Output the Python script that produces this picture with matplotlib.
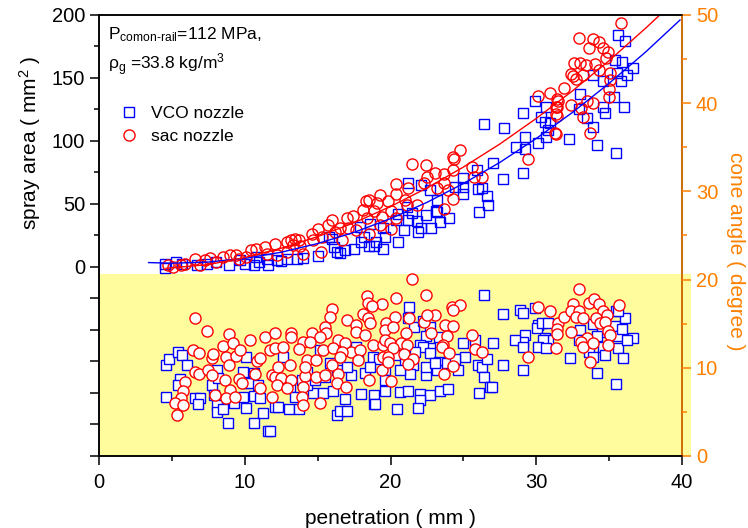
import numpy as np
import matplotlib
matplotlib.use('Agg')
import matplotlib.pyplot as plt
from matplotlib.patches import Rectangle

plt.rcParams['font.family'] = ['Liberation Sans', 'DejaVu Sans']
plt.rcParams['mathtext.fontset'] = 'custom'
plt.rcParams['mathtext.rm'] = 'Liberation Sans'
plt.rcParams['mathtext.it'] = 'Liberation Sans'

# spray area (upper half, left axis)
vco_x = [4.5, 4.5, 5.3, 5.7, 6.7, 7.4, 8.0, 8.9, 10.0, 10.6, 11.0, 11.6, 12.2, 12.9, 13.6, 9.7, 10.8,
         11.5, 12.5, 14.0, 15.0, 17.5, 18.5, 19.5, 16.0, 16.3, 18.2, 19.0,
         21.2, 22.1, 22.7, 23.1, 22.4, 21.8, 22.1, 22.8, 23.4, 21.1, 20.5, 21.45, 20.9, 20.5, 19.6, 18.9,
         18.0, 16.9, 16.5, 16.1, 20.4, 19.5, 18.6, 17.9, 15.8, 21.2, 21.9,
         26.4, 27.8, 29.9, 29.1, 30.3, 30.7, 30.8, 29.2, 28.6, 29.2, 30.15, 30.7, 27.0, 29.1, 27.7, 26.3,
         26.65, 26.7, 26.1, 24.95, 25.0, 25.0, 23.2, 23.2, 24.0, 24.4, 25.9, 26.0, 30.6,
         35.63, 36.1, 35.4, 35.86, 36.66, 36.25, 35.56, 33.9, 34.56, 35.8, 35.3, 33.0, 36.0, 34.7, 34.56,
         32.9, 33.5, 33.9, 32.27, 34.14, 35.47, 30.94]
vco_area = [2.7, -0.7, 4.0, 2.7, 1.9, 2.7, 4.0, 1.9, 2.7, 1.9, 4.0, 1.9, 5.3, 6.7, 6.7, 5.3, 8.0,
            6.0, 4.5, 7.5, 9.0, 14.0, 17.0, 14.5, 22.0, 11.9, 23.9, 20.1,
            66.8, 64.9, 61.0, 44.5, 41.1, 36.6, 31.3, 31.3, 35.8, 47.7, 41.9, 43.0, 29.7, 19.9, 23.9, 16.5,
            19.9, 13.8, 11.2, 15.9, 37.1, 31.3, 34.5, 31.8, 23.9, 37.6, 27.9,
            113.4, 110.0, 132.0, 122.4, 118.7, 127.2, 108.7, 102.8, 94.9, 93.3, 98.6, 102.8, 82.7, 74.2, 69.5, 62.3,
            56.2, 49.1, 43.8, 70.3, 63.6, 58.3, 53.0, 43.8, 38.5, 63.1, 76.9, 61.5, 115.3,
            184.1, 179.6, 164.3, 163.0, 157.6, 152.3, 154.2, 152.3, 147.8, 147.8, 134.6, 137.2, 126.6, 121.9, 127.2,
            125.1, 117.9, 111.3, 101.2, 96.7, 90.6, 114.0]

sac_x = [4.75, 5.1, 5.6, 5.9, 6.6, 7.3, 7.6, 8.5, 9.0, 9.4, 9.6, 10.4, 10.8, 11.4, 12.1, 12.9, 13.3, 11.5,
         12.2, 12.9, 13.45, 8.0, 6.9, 10.1,
         21.5, 22.4, 23.05, 22.5, 22.3, 20.4, 21.2, 19.3, 20.4, 18.5, 18.3, 19.8, 19.1, 21.0, 21.1, 18.1,
         17.45, 17.0, 18.9, 19.4, 20.0, 18.4, 16.0, 15.7, 16.5, 15.05, 14.6, 13.7, 13.2, 13.8, 14.7, 15.3,
         16.2, 17.1, 16.65, 15.2, 14.0, 18.5, 20.0, 19.3, 17.6, 20.4, 21.8, 23.2,
         30.15, 30.95, 31.5, 31.36, 31.36, 31.3, 29.4, 24.8, 24.3, 24.36, 24.3, 23.7, 25.6, 25.7, 26.25,
         23.7, 23.97, 24.3, 23.7,
         35.8, 32.95, 33.9, 34.3, 33.6, 34.6, 34.9, 34.8, 32.6, 33.0, 33.4, 34.0, 34.3, 32.36, 32.5, 33.2,
         32.7, 35.06, 35.06, 31.9, 31.4, 35.0, 35.0, 33.5, 33.9, 32.36, 31.4, 33.1, 31.4, 33.2, 31.35, 33.7]
sac_area = [1.4, 0.0, 1.4, 2.7, 6.1, 5.3, 7.2, 8.0, 9.3, 9.3, 6.0, 13.3, 14.6, 15.9, 18.6, 19.9, 17.3, 10.6,
            9.3, 11.9, 22.6, 4.0, 1.9, 8.0,
            81.6, 80.8, 74.7, 71.6, 66.8, 65.7, 62.3, 57.0, 57.8, 53.5, 52.5, 52.5, 50.4, 53.0, 49.0, 45.6,
            40.3, 39.2, 44.5, 39.8, 44.5, 39.2, 37.1, 33.2, 31.3, 30.5, 26.0, 21.8, 21.2, 16.5, 21.2, 23.9,
            27.9, 31.3, 21.2, 12.0, 10.6, 26.0, 30.5, 33.2, 29.7, 39.2, 49.0, 62.3,
            135.7, 138.3, 132.0, 127.2, 121.4, 106.6, 85.4, 92.8, 87.5, 85.4, 76.9, 73.7, 79.5, 71.1, 71.6,
            66.8, 61.0, 53.6, 46.4,
            193.4, 181.5, 180.7, 178.8, 173.5, 173.5, 170.9, 165.6, 161.6, 162.1, 160.3, 161.1, 156.3, 153.1, 151.5, 152.3,
            148.9, 153.7, 148.4, 141.7, 133.0, 141.0, 134.6, 132.0, 130.4, 128.5, 126.6, 125.9, 119.8, 118.7, 105.5, 106.5]

# fitted curves
vco_fit_x = [3.4, 5, 7.5, 10, 12.5, 15, 17.5, 20, 22.5, 25, 27.5, 30, 32.5, 35, 37.5, 39.86]
vco_fit_y = [3.5, 3.0, 3.9, 6.8, 11.7, 18.6, 27.5, 38.4, 51.3, 66.2, 83.0, 102.0, 122.8, 145.8, 170.6, 196.0]
sac_fit_x = [4.6, 7.5, 10, 12.5, 15, 17.5, 20, 22.5, 25, 27.5, 30, 32.5, 35, 37.5, 38.4]
sac_fit_y = [-1.0, 1.9, 7.5, 14.9, 24.1, 35.1, 48.0, 62.7, 79.3, 97.6, 117.9, 139.9, 163.8, 189.5, 199.2]

# cone angle (lower half, right axis)
vco_cx = [4.57, 4.80, 5.44, 5.67, 6.06, 5.56, 5.44, 4.57, 6.59, 6.93, 6.82, 8.07, 7.73, 7.89, 8.07, 8.07,
          8.49, 8.83, 9.27, 9.86, 10.09, 10.02, 9.91, 10.09, 10.32, 10.64, 11.05, 11.23, 10.64, 11.62, 12.08,
          10.94, 8.19, 10.6,
          12.3, 13.0, 13.7, 14.7, 15.4, 16.08, 16.88, 16.3, 16.5, 17.0, 18.0, 18.9, 18.9, 19.6, 11.73, 12.6,
          12.76, 13.9, 14.25, 15.5, 16.3, 17.3, 17.6, 18.25, 18.8, 19.2, 19.6, 17.0, 15.16, 13.1, 13.45, 14.25,
          14.8, 15.85, 16.76, 17.8, 18.6,
          26.4, 21.3, 21.2, 21.6, 22.25, 22.7, 22.4, 23.3, 22.0, 22.7, 22.25, 21.7, 20.5, 21.0, 21.57, 22.7,
          23.3, 23.17, 23.86, 25.0, 25.8, 27.0, 25.1, 26.0, 26.3, 26.65, 26.4, 26.8, 26.1, 24.66, 24.4, 22.4,
          21.34, 20.65, 19.6, 20.65, 21.2, 22.0, 22.7, 23.4, 23.97, 22.0, 21.9, 20.47, 22.4, 23.06,
          27.75, 28.9, 29.1, 29.9, 30.15, 30.03, 30.38, 30.83, 30.6, 30.83, 30.45, 30.15, 30.7, 29.2, 29.1,
          28.55, 29.1, 27.7, 29.1, 32.3, 33.0, 32.9, 33.9, 34.5, 34.15, 34.56, 34.7, 35.4, 35.5, 35.6, 35.6,
          34.15, 35.5, 33.6, 33.9, 26.95, 36.1, 35.87, 36.67, 36.2, 35.98, 35.64, 18.93]
vco_angle = [10.3, 10.96, 11.83, 11.45, 10.3, 8.70, 8.05, 6.65, 6.62, 6.62, 5.86, 9.75, 8.05, 6.92, 5.78, 5.03,
             5.29, 3.78, 5.97, 9.56, 11.19, 8.24, 6.73, 5.41, 8.24, 6.80, 6.54, 4.84, 3.78, 2.87, 5.59,
             8.05, 8.8, 9.37,
             5.6, 5.3, 5.3, 7.18, 7.18, 7.4, 6.43, 4.65, 5.14, 5.14, 7.03, 6.92, 5.9, 7.4, 2.84, 11.27,
             8.43, 8.6, 9.56, 8.92, 9.75, 9.2, 12.4, 9.37, 11.27, 10.96, 9.75, 10.1, 12.02, 7.86, 6.73, 8.05,
             8.6, 10.5, 12.02, 11.07, 10.13,
             18.25, 16.86, 15.6, 14.67, 15.35, 14.6, 13.6, 13.5, 12.6, 12.2, 12.3, 11.83, 11.45, 10.9, 10.32, 11.64,
             10.7, 9.75, 10.5, 12.85, 13.1, 12.85, 11.19, 10.32, 10.05, 10.96, 8.92, 7.78, 7.18, 9.75, 10.96, 9.18,
             9.3, 9.75, 8.6, 7.3, 7.4, 7.03, 6.92, 7.4, 7.56, 6.35, 5.4, 5.29, 10.13, 10.5,
             16.1, 16.5, 16.25, 16.75, 14.85, 14.47, 15.04, 15.1, 13.34, 13.1, 13.1, 12.3, 12.2, 13.72, 12.96,
             13.15, 12.3, 10.32, 9.8, 11.07, 14.3, 13.15, 14.97, 14.1, 13.6, 12.3, 11.45, 14.74, 16.4, 13.6, 12.2,
             9.37, 8.16, 11.83, 11.27, 7.86, 15.6, 14.36, 13.4, 13.2, 11.07, 16.47, 5.9]

sac_cx = [6.59, 7.39, 8.95, 10.36, 8.49, 9.17, 6.47, 6.88, 7.73, 7.80, 8.72, 9.4, 8.95, 6.59, 6.88, 7.5,
          7.73, 5.9, 5.79, 5.6, 5.21, 5.79, 5.38, 8.65, 8.99, 7.96, 8.72, 9.33, 9.63, 9.79, 10.82, 11.05,
          10.71, 11.05, 11.4, 11.74, 12.08, 12.08, 11.85, 12.08, 11.85, 9.68,
          18.37, 18.48, 19.4, 18.7, 15.96, 18.14, 18.48, 18.6, 17.0, 15.85, 17.6, 17.6, 18.25, 19.7, 19.6,
          15.5, 15.6, 13.2, 13.15, 14.6, 15.16, 14.0, 14.5, 16.4, 16.9, 17.3, 17.9, 18.8, 19.5, 12.65, 13.75,
          15.4, 16.08, 16.65, 17.8, 19.5, 12.3, 13.1, 14.25, 14.9, 15.96, 16.5, 12.5, 13.2, 14.1, 14.9, 15.5,
          16.4, 14.1, 12.2, 12.9, 14.0, 13.9, 14.0, 16.3, 16.95, 18.55, 19.4, 15.16,
          21.5, 20.4, 22.4, 24.2, 24.8, 24.3, 20.3, 21.3, 22.3, 23.06, 22.5, 23.74, 24.3, 20.2, 21.06, 22.8,
          23.86, 25.6, 19.6, 19.97, 20.7, 21.1, 23.6, 23.5, 20.2, 25.8, 26.3, 20.9, 24.0, 19.8, 21.57, 19.85,
          21.2, 24.27, 23.7, 20.0,
          32.96, 30.15, 30.95, 31.5, 31.9, 31.4, 31.45, 31.36, 32.4, 29.46, 32.55, 32.4, 32.96, 32.7, 33.2,
          33.6, 33.97, 34.27, 34.6, 34.84, 34.1, 34.38, 34.7, 34.95, 35.07, 34.95, 33.47, 33.1, 33.2, 33.9,
          33.7, 35.7]
sac_angle = [15.6, 14.2, 13.8, 13.2, 12.5, 12.8, 12.02, 11.64, 11.07, 11.6, 11.2, 11.34, 10.3, 9.56, 9.3, 9.8,
             9.2, 8.43, 7.4, 6.54, 6.05, 5.78, 4.65, 8.62, 7.5, 6.92, 6.54, 6.73, 8.7, 8.24, 10.8, 11.07,
             9.3, 7.67, 13.5, 12.02, 13.98, 12.2, 9.18, 9.0, 6.65, 12.02,
             18.14, 17.3, 17.2, 17.0, 16.63, 16.1, 15.6, 15.04, 15.4, 15.8, 14.85, 14.1, 13.72, 15.1, 14.3,
             14.67, 13.9, 13.9, 13.5, 13.9, 13.5, 12.96, 12.96, 13.15, 12.8, 11.83, 12.02, 12.6, 12.6, 12.4, 12.1,
             12.02, 12.2, 11.83, 10.9, 11.27, 10.13, 10.32, 10.9, 10.9, 10.32, 11.27, 8.8, 8.6, 9.07, 9.0, 9.18,
             9.3, 10.05, 8.05, 7.67, 7.78, 6.73, 5.78, 8.24, 7.78, 8.6, 9.8, 5.97,
             20.03, 17.9, 18.25, 16.9, 17.1, 16.5, 15.8, 15.6, 15.2, 16.0, 16.0, 14.85, 14.74, 14.67, 13.9, 13.9,
             13.6, 13.72, 13.15, 12.85, 12.8, 12.6, 12.6, 12.3, 12.2, 12.1, 11.83, 11.57, 11.64, 11.27, 10.96, 10.7,
             10.43, 10.2, 9.3, 8.54,
             18.9, 16.93, 16.4, 15.1, 15.8, 14.36, 13.83, 12.2, 14.1, 11.19, 17.2, 16.4, 16.4, 15.8, 15.6,
             17.4, 17.76, 17.2, 16.4, 16.0, 15.7, 15.1, 15.23, 14.2, 13.72, 12.6, 13.34, 12.96, 12.3, 12.85,
             10.6, 17.1]

orange = '#FF8000'
blue = '#0000FF'
red = '#FF0000'

fig = plt.figure(figsize=(7.48, 5.28), dpi=100)
ax = fig.add_axes([0.1324, 0.1364, 0.7794, 0.8352])
ax2 = ax.twinx()

ax.set_xlim(0, 40)
ax.set_ylim(-150, 200)
ax2.set_ylim(0, 50)

# yellow band behind the cone angle data
ax.add_patch(Rectangle((0, 0), 40.6, 20.6, transform=ax2.transData, facecolor='#FFFC9E',
                       edgecolor='none', clip_on=False, zorder=0))

ax.plot(vco_x, vco_area, 's', ms=6.5, mfc='none', mec=blue, mew=1, label='VCO nozzle', zorder=3)
ax.plot(sac_x, sac_area, 'o', ms=8, mfc='none', mec=red, mew=1, label='sac nozzle', zorder=3)
ax.plot(vco_fit_x, vco_fit_y, '-', color=blue, lw=1, zorder=4)
ax.plot(sac_fit_x, sac_fit_y, '-', color=red, lw=1, zorder=4)

ax2.plot(vco_cx, vco_angle, 's', ms=6.5, mfc='white', mec=blue, mew=1)
ax2.plot(sac_cx, sac_angle, 'o', ms=8, mfc='white', mec=red, mew=1)

ax.set_xticks([0, 10, 20, 30, 40])
ax.set_xticks([5, 15, 25, 35], minor=True)
ax.set_yticks([-150, -125, -100, -75, -50, -25, 0, 50, 100, 150, 200])
ax.set_yticklabels(['', '', '', '', '', '', '0', '50', '100', '150', '200'])
ax.set_yticks([25, 75, 125, 175], minor=True)
ax.tick_params(which='major', direction='out', length=6.5, width=1.1, labelsize=14.5)
ax.tick_params(which='minor', direction='out', length=3.5, width=1.1)
ax.tick_params(axis='x', pad=6)

ax2.set_yticks([0, 10, 20, 30, 40, 50])
ax2.set_yticks([5, 15, 25, 35, 45], minor=True)
ax2.tick_params(which='major', direction='out', length=6.5, width=1.1, labelsize=14.5,
                color=orange, labelcolor=orange)
ax2.tick_params(which='minor', direction='out', length=3.5, width=1.1, color=orange)

for s in ax.spines.values():
    s.set_linewidth(1.1)
for s in ax2.spines.values():
    s.set_linewidth(1.1)
ax2.spines['right'].set_color(orange)

ax.set_xlabel('penetration ( mm )', fontsize=15, labelpad=12)
ax.text(-0.118, 0.71, 'spray area ( mm$^\\mathregular{2}$ )', transform=ax.transAxes, fontsize=15,
        rotation=90, ha='center', va='center')
ax2.text(1.092, 0.465, 'cone angle ( degree )', transform=ax2.transAxes, fontsize=15, rotation=-90,
         ha='center', va='center', color=orange)

ax.text(0.016, 0.955, 'P$_\\mathregular{comon\u2010rail}$=112 MPa,', transform=ax.transAxes, fontsize=12.5,
        va='center')
ax.text(0.016, 0.888, '\u03c1$_\\mathregular{g}$ =33.8 kg/m$^\\mathregular{3}$', transform=ax.transAxes,
        fontsize=12.5, va='center')

ax.legend(loc='upper left', bbox_to_anchor=(0.006, 0.83), frameon=False, fontsize=12.5,
          handletextpad=0.7, labelspacing=0.45, handlelength=1.2)

plt.savefig('out.png', dpi=100)
